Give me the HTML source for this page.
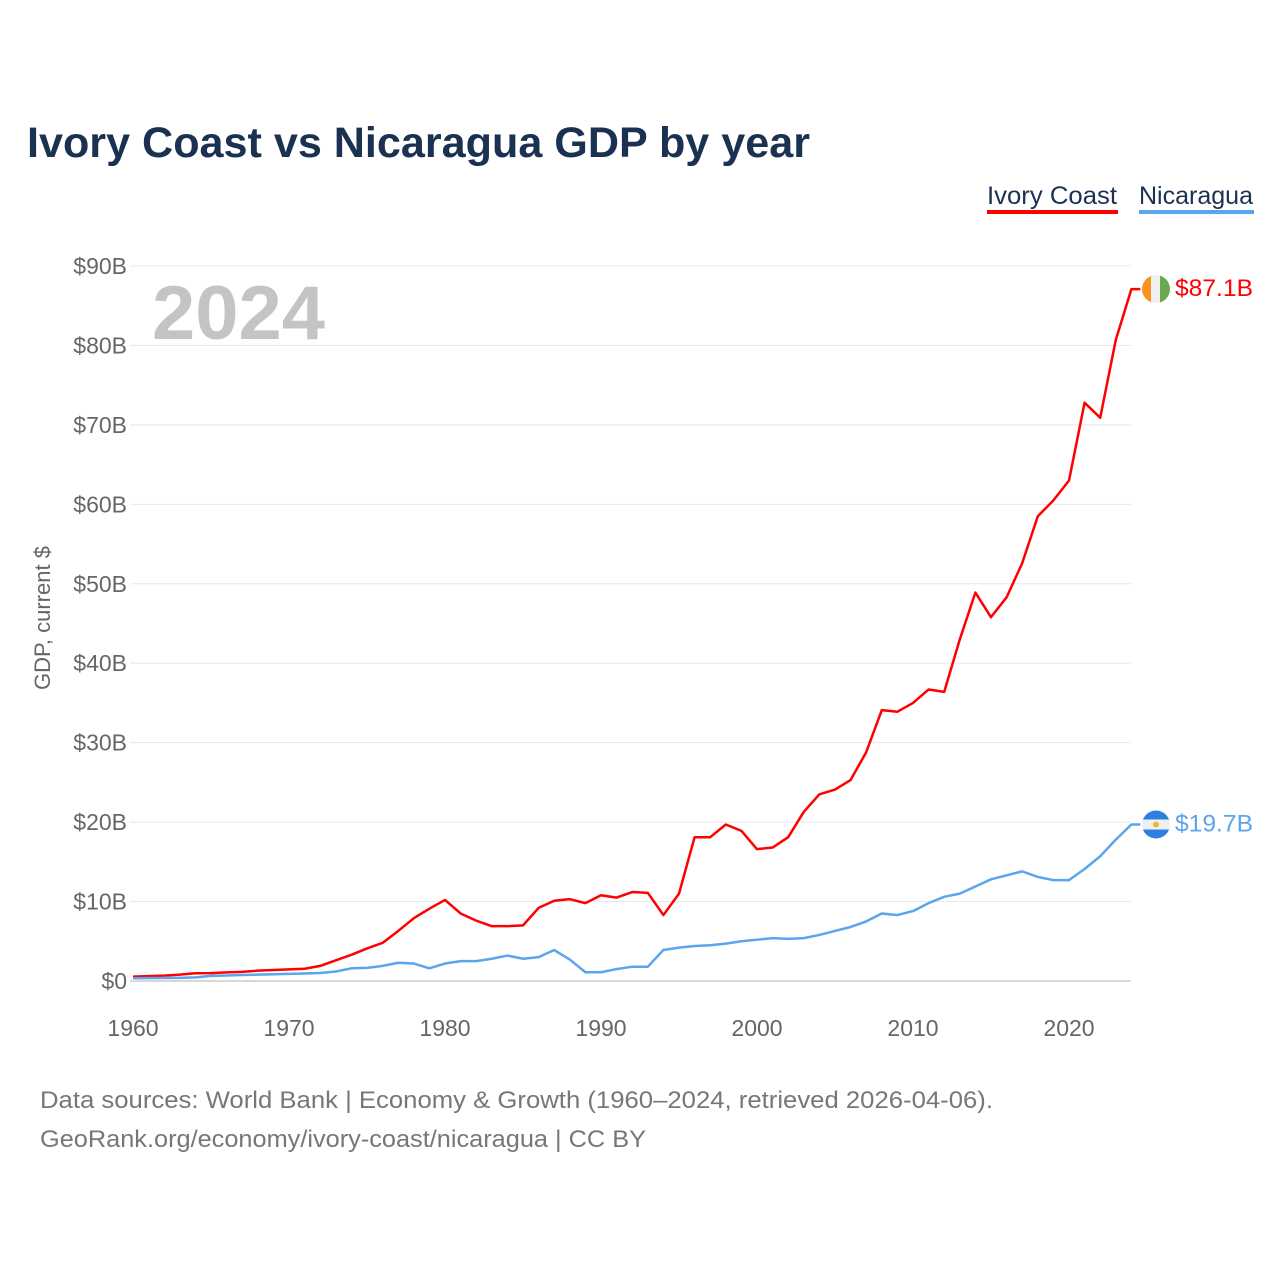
<!DOCTYPE html>
<html><head><meta charset="utf-8"><style>
body{margin:0;background:#fff;font-family:"Liberation Sans",sans-serif;}
svg text{font-family:"Liberation Sans",sans-serif;}
</style></head><body>
<svg width="1280" height="1280" xmlns="http://www.w3.org/2000/svg">
<text x="27" y="157" font-size="43" font-weight="bold" fill="#1b3152" textLength="783" lengthAdjust="spacingAndGlyphs">Ivory Coast vs Nicaragua GDP by year</text>
<g><text x="987" y="204" font-size="25" fill="#1b3152" textLength="130" lengthAdjust="spacingAndGlyphs">Ivory Coast</text><rect x="987" y="210" width="131" height="4" fill="#ff0000"/></g>
<g><text x="1139" y="204" font-size="25" fill="#1b3152" textLength="114" lengthAdjust="spacingAndGlyphs">Nicaragua</text><rect x="1139" y="210" width="115" height="4" fill="#5aa5ec"/></g>
<g id="grid"></g><g id="yt"></g><g id="xt"></g>
<text x="152" y="339" font-size="76" font-weight="bold" fill="#c4c4c4" textLength="173" lengthAdjust="spacingAndGlyphs">2024</text>
<text transform="translate(50,618) rotate(-90)" text-anchor="middle" font-size="22" fill="#666">GDP, current $</text>
<g id="lines"></g>
<text x="40" y="1108" font-size="24" fill="#777" textLength="953" lengthAdjust="spacingAndGlyphs">Data sources: World Bank | Economy &amp; Growth (1960–2024, retrieved 2026-04-06).</text>
<text x="40" y="1147" font-size="24" fill="#777" textLength="606" lengthAdjust="spacingAndGlyphs">GeoRank.org/economy/ivory-coast/nicaragua | CC BY</text>
</svg>
<script>
const years=[];for(let y=1960;y<=2024;y++)years.push(y);
const ivoryCoast=[0.55,0.62,0.68,0.8,0.97,0.99,1.08,1.15,1.3,1.39,1.46,1.54,1.9,2.6,3.3,4.1,4.8,6.3,7.9,9.1,10.2,8.5,7.6,6.9,6.9,7.0,9.2,10.1,10.3,9.8,10.8,10.5,11.2,11.1,8.3,11.0,18.1,18.1,19.7,18.9,16.6,16.8,18.1,21.3,23.5,24.1,25.3,28.8,34.1,33.9,35.0,36.7,36.4,43.0,48.9,45.8,48.3,52.6,58.5,60.5,63.0,72.8,70.9,80.7,87.1];
const nicaragua=[0.35,0.36,0.38,0.4,0.45,0.65,0.7,0.75,0.8,0.85,0.9,0.95,1.0,1.2,1.6,1.65,1.9,2.3,2.2,1.6,2.2,2.5,2.5,2.8,3.2,2.8,3.0,3.9,2.7,1.1,1.1,1.5,1.8,1.8,3.9,4.2,4.4,4.5,4.7,5.0,5.2,5.4,5.3,5.4,5.8,6.3,6.8,7.5,8.5,8.3,8.8,9.8,10.6,11.0,11.9,12.8,13.3,13.8,13.1,12.7,12.7,14.1,15.7,17.8,19.7];
const yTicks=[0,10,20,30,40,50,60,70,80,90];
const xTicks=[1960,1970,1980,1990,2000,2010,2020];
const NS="http://www.w3.org/2000/svg";
const X=y=>133+(y-1960)*15.6, Y=v=>981-v*7.944;
function mk(t,a,p){const e=document.createElementNS(NS,t);for(const k in a)e.setAttribute(k,a[k]);p.appendChild(e);return e;}
const grid=document.getElementById('grid'),yt=document.getElementById('yt'),xt=document.getElementById('xt'),lines=document.getElementById('lines');
yTicks.forEach(v=>{
 const l=mk('line',{x1:130,x2:1131,y1:Y(v),y2:Y(v),stroke:v===0?'#d8d8d8':'#e8e8e8','stroke-width':v===0?2:1},grid);
 
 
 const t=mk('text',{x:127,y:Y(v)+8,'text-anchor':'end','font-size':23,fill:'#666'},yt);t.textContent='$'+v+(v?'B':'');
 
 
});
xTicks.forEach(v=>{
 const t=mk('text',{x:X(v),y:1036,'text-anchor':'middle','font-size':23,fill:'#666'},xt);t.textContent=v;
 
 
});
function series(data,color,name){
 const pts=data.map((v,i)=>X(years[i])+','+Y(v));
 const last=data[data.length-1];
 pts.push((X(2024)+9)+','+Y(last));
 const p=mk('polyline',{points:pts.join(' '),fill:'none',stroke:color,'stroke-width':2.5,'stroke-linejoin':'round'},lines);
 
 
 const t=mk('text',{x:1175,y:Y(last)+7,'font-size':24,fill:color,textLength:78,lengthAdjust:'spacingAndGlyphs'},lines);t.textContent='$'+last+'B';
 
 
 return Y(last);
}
const yi=series(ivoryCoast,'#ff0000','ivory-coast');
const yn=series(nicaragua,'#5aa5ec','nicaragua');
const f1=mk('g',{},lines);


const cp1=mk('clipPath',{id:'c1'},f1);mk('circle',{cx:1156,cy:yi,r:14},cp1);
mk('rect',{x:1142,y:yi-14,width:10,height:28,fill:'#f7931e','clip-path':'url(#c1)'},f1);
mk('rect',{x:1151,y:yi-14,width:10,height:28,fill:'#f0f0f0','clip-path':'url(#c1)'},f1);
mk('rect',{x:1160,y:yi-14,width:10,height:28,fill:'#6aa84f','clip-path':'url(#c1)'},f1);
const f2=mk('g',{},lines);


const cp2=mk('clipPath',{id:'c2'},f2);mk('circle',{cx:1156,cy:yn,r:14},cp2);
mk('rect',{x:1142,y:yn-14,width:28,height:10,fill:'#2f7fe0','clip-path':'url(#c2)'},f2);
mk('rect',{x:1142,y:yn-5,width:28,height:10,fill:'#f0f0f0','clip-path':'url(#c2)'},f2);
mk('rect',{x:1142,y:yn+5,width:28,height:10,fill:'#2f7fe0','clip-path':'url(#c2)'},f2);
mk('circle',{cx:1156,cy:yn,r:3,fill:'#e8b830'},f2);
</script>
</body></html>
